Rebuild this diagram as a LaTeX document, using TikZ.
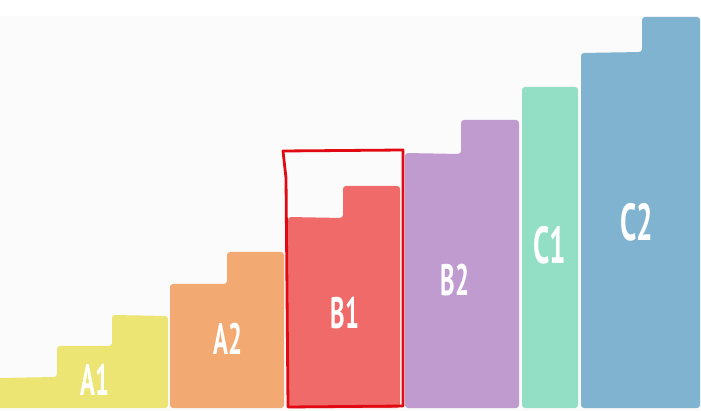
\documentclass[tikz,border=0pt]{standalone}
\usepackage{fontspec}
\newfontfamily\stairfont{PT Sans}
\usetikzlibrary{positioning}
\definecolor{StpYellow}{RGB}{236,229,116}
\definecolor{StpOrange}{RGB}{242,170,114}
\definecolor{StpRed}{RGB}{239,106,104}
\definecolor{StpPurple}{RGB}{192,155,208}
\definecolor{StpGreen}{RGB}{146,223,197}
\definecolor{StpBlue}{RGB}{127,179,208}
\definecolor{StpPaper}{RGB}{251,251,251}
\definecolor{StpMark}{RGB}{226,10,18}
\tikzset{
  stp/bar/.style={
    rounded corners=3pt
  },
  stp/label/.style={
    text=white,
    font=\stairfont\bfseries\fontsize{44}{44}\selectfont,
    xscale=0.56,
    inner sep=0pt
  },
  stp/biglabel/.style={
    stp/label,
    font=\stairfont\bfseries\fontsize{52}{52}\selectfont
  },
  stp/mark/.style={
    draw=StpMark,
    line width=2.8pt,
    line join=round
  }
}

\begin{document}
\begin{tikzpicture}[x=1pt,y=-1pt]
  \useasboundingbox (0,0) rectangle (701,411);
  \fill[white] (0,0) rectangle (701,411);
  \fill[StpPaper] (0,16) rectangle (701,411);
  % stair bars
  \fill[stp/bar,StpYellow] (-4,408) -- (-4,378) -- (57,377) -- (57,346) -- (112,346) -- (112,315) -- (168,316) -- (168,408) -- cycle;
  \fill[stp/bar,StpOrange] (170,408) -- (170,284) -- (227,284) -- (227,252) -- (284,252) -- (284,408) -- cycle;
  \fill[stp/bar,StpRed] (288,408) -- (288,217) -- (343,218) -- (343,186) -- (400,186) -- (400,408) -- cycle;
  \fill[stp/bar,StpPurple] (405,408) -- (405,153) -- (461,154) -- (461,120) -- (519,120) -- (519,408) -- cycle;
  \fill[stp/bar,StpGreen] (522,408) -- (522,87) -- (578,87) -- (578,408) -- cycle;
  \fill[stp/bar,StpBlue] (581,408) -- (581,53) -- (642,52) -- (642,17) -- (700,17) -- (700,408) -- cycle;
  % labels
  \node[stp/label] (a1) at (95,380) {A1};
  \node[stp/label] (a2) at (228,339) {A2};
  \node[stp/label] (b1) at (345,313) {B1};
  \node[stp/label] (b2) at (455,280) {B2};
  \node[stp/biglabel] (c1) at (550,245) {C1};
  \node[stp/biglabel] (c2) at (637,222) {C2};
  % highlight
  \draw[stp/mark] (283,151) -- (403,150) -- (403,406) -- (288,407) -- (286,178) -- cycle;
\end{tikzpicture}
\end{document}
